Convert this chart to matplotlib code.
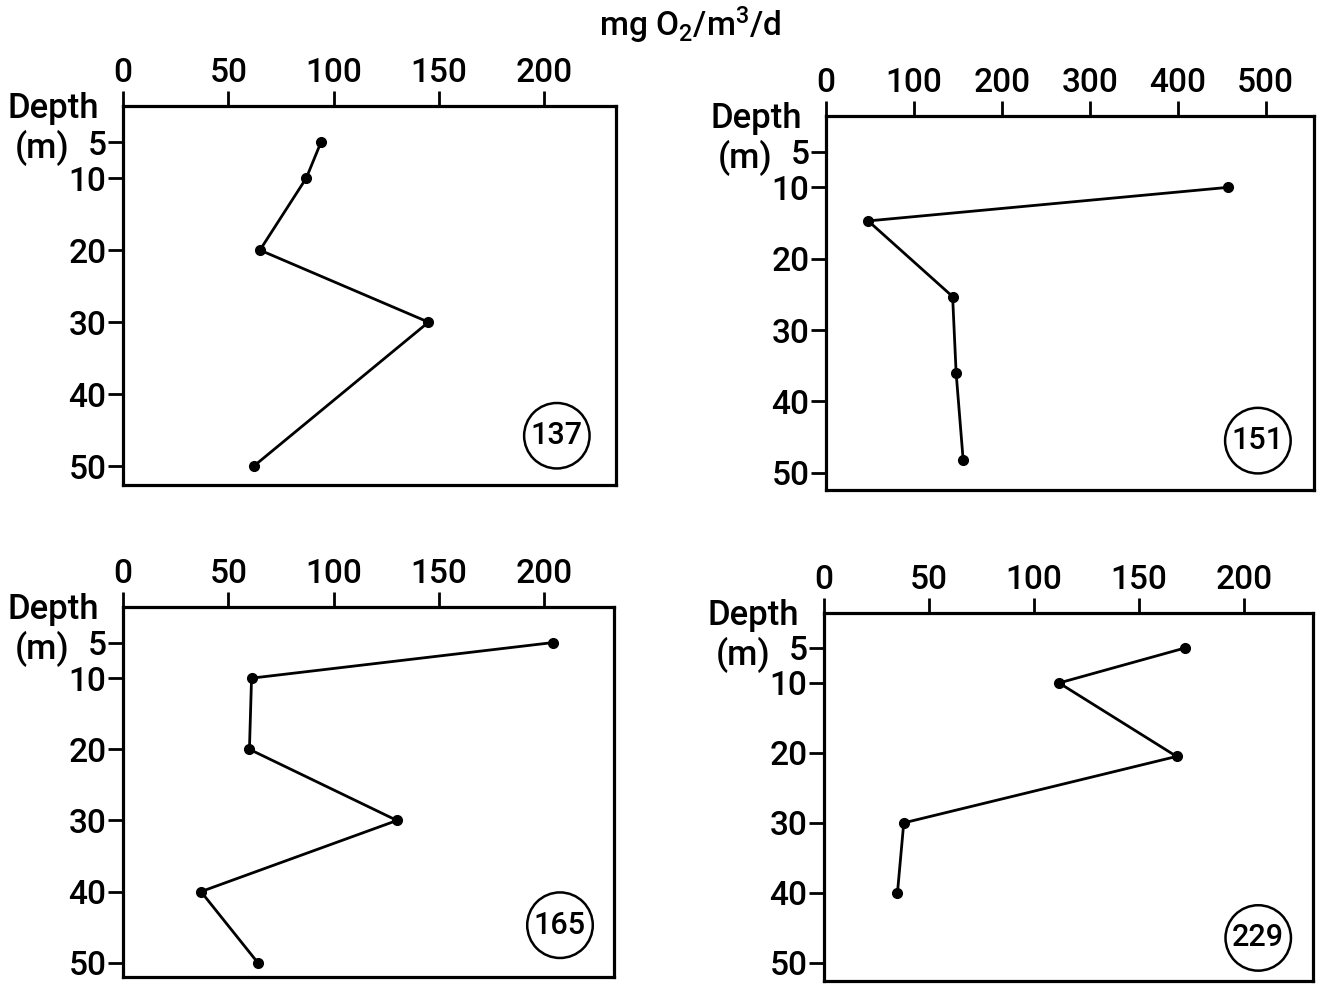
import matplotlib
matplotlib.use("Agg")
import matplotlib.pyplot as plt

plt.rcParams['font.family'] = ['Roboto', 'DejaVu Sans']
plt.rcParams['font.weight'] = 'medium'
plt.rcParams['mathtext.default'] = 'regular'

# station 137
depth_137 = [5, 10, 20, 30, 50]
rate_137 = [94, 87, 65, 145, 62]
# station 151
depth_151 = [10, 14.7, 25.3, 36, 48.2]
rate_151 = [457, 48, 144, 148, 156]
# station 165
depth_165 = [5, 10, 20, 30, 40, 50]
rate_165 = [204, 61, 60, 130, 37, 64]
# station 229
depth_229 = [5, 10, 20.5, 30, 40]
rate_229 = [172, 112, 168, 38, 35]

depth_ticks = [5, 10, 20, 30, 40, 50]
rate_ticks_small = [0, 50, 100, 150, 200]
rate_ticks_big = [0, 100, 200, 300, 400, 500]

W, H = 1321, 986
fig = plt.figure(figsize=(W / 100, H / 100), dpi=100)


def px_axes(left, right, top, bottom):
    return fig.add_axes([left / W, 1 - bottom / H, (right - left) / W, (bottom - top) / H])


# axes box in pixels, data, ticks, x max, y max, station, label pos
panels = [
    (px_axes(123, 616, 106, 485), depth_137, rate_137, rate_ticks_small, 234, 52.6, "137", (0.88, 0.13)),
    (px_axes(826, 1314, 116, 490), depth_151, rate_151, rate_ticks_big, 555, 52.4, "151", (0.885, 0.132)),
    (px_axes(123, 614, 607, 977), depth_165, rate_165, rate_ticks_small, 233, 52.0, "165", (0.89, 0.14)),
    (px_axes(824, 1313, 613, 981), depth_229, rate_229, rate_ticks_small, 233, 52.6, "229", (0.888, 0.117)),
]

for ax, depth, rate, xticks, xmax, ymax, label, lpos in panels:
    ax.plot(rate, depth, color='black', lw=2.0, marker='o', ms=7, clip_on=False)
    ax.set_xlim(0, xmax)
    ax.set_ylim(ymax, 0)
    ax.xaxis.tick_top()
    ax.set_xticks(xticks)
    ax.set_yticks(depth_ticks)
    ax.tick_params(axis='both', direction='out', length=11, width=2.0,
                   labelsize=24, pad=1)
    for s in ax.spines.values():
        s.set_linewidth(2.3)
    ax.text(lpos[0], lpos[1], label, transform=ax.transAxes, ha='center', va='center',
            fontsize=22,
            bbox=dict(boxstyle='circle,pad=0.22', fc='white', ec='black', lw=1.8))
    # Depth (m) label at upper left
    bb = ax.get_position()
    fig.text(bb.x0 - 116 / W, bb.y1 + 14 / H, "Depth", fontsize=25, ha='left', va='top')
    fig.text(bb.x0 - 108 / W, bb.y1 - 24 / H, "(m)", fontsize=25, ha='left', va='top')

fig.text(690 / W, 1 - 25 / H, r'mg O$_{2}$/m$^{3}$/d', fontsize=24, ha='center', va='center')

fig.savefig("out.png", dpi=100)
